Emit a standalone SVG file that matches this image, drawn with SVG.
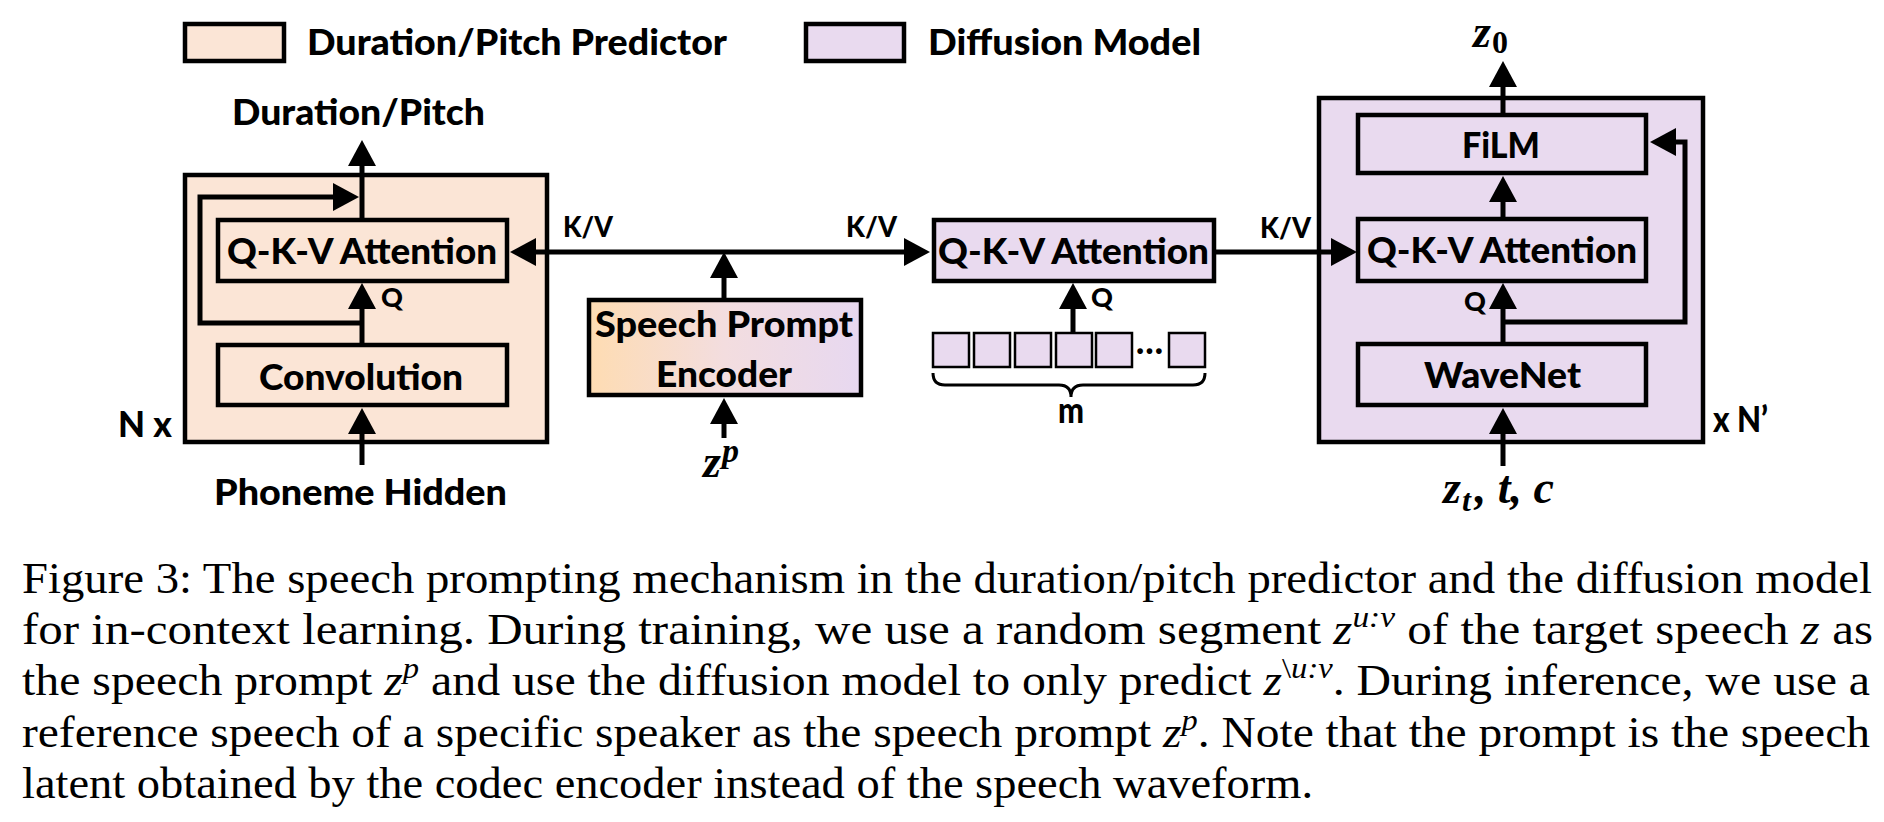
<svg xmlns="http://www.w3.org/2000/svg" width="1884" height="822" viewBox="0 0 1884 822">
<style>
.box{stroke:#000;stroke-width:4.5}
.pe{fill:#FBE5D6}
.df{fill:#E9DAEF}
.lbl{font-family:Lato,"Open Sans","Liberation Sans",sans-serif;font-weight:900;font-size:36px;fill:#000}
.sm{font-size:27px}
.kv{font-size:28px}
.math{font-family:"Liberation Serif","Times New Roman",serif;font-weight:700;font-style:italic;font-size:46px;fill:#000}
.conn{stroke:#000;stroke-width:5;fill:none}
.thin{stroke:#000;stroke-width:3;fill:none}
.cap{font-family:"Liberation Serif","Times New Roman",serif;font-size:44px;fill:#000}
.it{font-style:italic}
</style>
<defs>
<marker id="ah" viewBox="0 0 26 28" markerWidth="26" markerHeight="28" refX="1" refY="14" orient="auto-start-reverse" markerUnits="userSpaceOnUse">
<path d="M0,0 L26,14 L0,28 Z" fill="#000"/>
</marker>
<linearGradient id="enc" x1="0" y1="0" x2="1" y2="0">
<stop offset="0" stop-color="#FEDCB2"/>
<stop offset="0.5" stop-color="#F3DDDF"/>
<stop offset="1" stop-color="#E7D8F0"/>
</linearGradient>
</defs>
<rect width="1884" height="822" fill="#fff"/>

<g id="legend">
<rect class="box pe" x="185" y="24" width="99" height="37"/>
<text class="lbl" x="307" y="55" font-size="35" textLength="420" lengthAdjust="spacingAndGlyphs">Duration/Pitch Predictor</text>
<rect class="box df" x="806" y="24" width="98" height="37"/>
<text class="lbl" x="928" y="55" font-size="35" textLength="273" lengthAdjust="spacingAndGlyphs">Diffusion Model</text>
</g>

<g id="predictor">
<rect class="box pe" x="185" y="175" width="362" height="267"/>
<text class="lbl" x="118" y="437" textLength="54" lengthAdjust="spacingAndGlyphs">N x</text>
</g>
<g id="pred-attn">
<rect class="box pe" x="218" y="220" width="289" height="61"/>
<text class="lbl" x="227" y="264" textLength="270" lengthAdjust="spacingAndGlyphs">Q-K-V Attention</text>
</g>
<g id="pred-conv">
<rect class="box pe" x="218" y="345" width="289" height="60"/>
<text class="lbl" x="259" y="390" textLength="204" lengthAdjust="spacingAndGlyphs">Convolution</text>
</g>
<g id="pred-out">
<text class="lbl" x="232" y="125" textLength="253" lengthAdjust="spacingAndGlyphs">Duration/Pitch</text>
</g>
<g id="pred-in">
<text class="lbl" x="214" y="505" textLength="293" lengthAdjust="spacingAndGlyphs">Phoneme Hidden</text>
</g>

<g id="encoder">
<rect class="box" fill="url(#enc)" x="589" y="300" width="272" height="95"/>
<text class="lbl" x="595" y="337" textLength="258" lengthAdjust="spacingAndGlyphs">Speech Prompt</text>
<text class="lbl" x="656" y="387" textLength="136" lengthAdjust="spacingAndGlyphs">Encoder</text>
</g>
<g id="zp">
<text class="math" x="703" y="477">z<tspan font-size="34" dy="-15" dx="1">p</tspan></text>
</g>

<g id="mid-attn">
<rect class="box df" x="934" y="220" width="280" height="61"/>
<text class="lbl" x="938" y="264" textLength="271" lengthAdjust="spacingAndGlyphs">Q-K-V Attention</text>
</g>
<g id="queries">
<rect class="df" stroke="#000" stroke-width="2.5" x="933" y="333" width="36" height="34"/>
<rect class="df" stroke="#000" stroke-width="2.5" x="974" y="333" width="36" height="34"/>
<rect class="df" stroke="#000" stroke-width="2.5" x="1015" y="333" width="36" height="34"/>
<rect class="df" stroke="#000" stroke-width="2.5" x="1056" y="333" width="36" height="34"/>
<rect class="df" stroke="#000" stroke-width="2.5" x="1096" y="333" width="36" height="34"/>
<text class="lbl" x="1136" y="354" font-size="28" textLength="27" lengthAdjust="spacingAndGlyphs">…</text>
<rect class="df" stroke="#000" stroke-width="2.5" x="1169" y="333" width="36" height="34"/>
<path class="thin" d="M933,373 Q933,385 945,385 L1059,385 Q1071,385 1071,397 Q1071,385 1083,385 L1193,385 Q1205,385 1205,373"/>
<text class="lbl" x="1058" y="423" font-size="29" textLength="26" lengthAdjust="spacingAndGlyphs">m</text>
</g>

<g id="diffusion">
<rect class="box df" x="1319" y="98" width="384" height="344"/>
<text class="lbl" x="1713" y="432" textLength="55" lengthAdjust="spacingAndGlyphs">x N’</text>
</g>
<g id="film">
<rect class="box df" x="1358" y="115" width="288" height="58"/>
<text class="lbl" x="1462" y="158" textLength="78" lengthAdjust="spacingAndGlyphs">FiLM</text>
</g>
<g id="diff-attn">
<rect class="box df" x="1358" y="219" width="288" height="62"/>
<text class="lbl" x="1367" y="263" textLength="270" lengthAdjust="spacingAndGlyphs">Q-K-V Attention</text>
</g>
<g id="wavenet">
<rect class="box df" x="1358" y="344" width="288" height="61"/>
<text class="lbl" x="1424" y="388" textLength="157" lengthAdjust="spacingAndGlyphs">WaveNet</text>
</g>
<g id="z0">
<text class="math" x="1473" y="47">z<tspan font-size="32" font-style="normal" dy="6" dx="1">0</tspan></text>
</g>
<g id="ztc">
<text class="math" x="1443" y="503">z<tspan font-size="32" dy="8" dx="1">t</tspan><tspan dy="-8" dx="4">, t, c</tspan></text>
</g>

<g id="connectors">
<line class="conn" x1="362" y1="465" x2="362" y2="433" marker-end="url(#ah)"/>
<line class="conn" x1="362" y1="345" x2="362" y2="308" marker-end="url(#ah)"/>
<line class="conn" x1="362" y1="220" x2="362" y2="165" marker-end="url(#ah)"/>
<polyline class="conn" points="362,323 200,323 200,197 334,197" marker-end="url(#ah)"/>
<line class="conn" x1="535" y1="252" x2="905" y2="252" marker-start="url(#ah)" marker-end="url(#ah)"/>
<line class="conn" x1="724" y1="300" x2="724" y2="277" marker-end="url(#ah)"/>
<line class="conn" x1="724" y1="438" x2="724" y2="423" marker-end="url(#ah)"/>
<line class="conn" x1="1073" y1="333" x2="1073" y2="308" marker-end="url(#ah)"/>
<line class="conn" x1="1214" y1="252" x2="1332" y2="252" marker-end="url(#ah)"/>
<line class="conn" x1="1503" y1="466" x2="1503" y2="433" marker-end="url(#ah)"/>
<line class="conn" x1="1503" y1="344" x2="1503" y2="308" marker-end="url(#ah)"/>
<line class="conn" x1="1503" y1="219" x2="1503" y2="201" marker-end="url(#ah)"/>
<line class="conn" x1="1503" y1="115" x2="1503" y2="86" marker-end="url(#ah)"/>
<polyline class="conn" points="1503,322 1685,322 1685,142 1675,142" marker-end="url(#ah)"/>
<text class="lbl sm" x="381" y="307">Q</text>
<text class="lbl sm" x="1091" y="307">Q</text>
<text class="lbl sm" x="1464" y="311">Q</text>
<text class="lbl kv" x="563" y="237" textLength="50" lengthAdjust="spacingAndGlyphs">K/V</text>
<text class="lbl kv" x="846" y="237" textLength="51" lengthAdjust="spacingAndGlyphs">K/V</text>
<text class="lbl kv" x="1260" y="238" textLength="51" lengthAdjust="spacingAndGlyphs">K/V</text>
</g>

<g id="caption">
<text class="cap" x="22" y="593" textLength="1850" lengthAdjust="spacingAndGlyphs">Figure 3: The speech prompting mechanism in the duration/pitch predictor and the diffusion model</text>
<text class="cap" x="22" y="644" textLength="1851" lengthAdjust="spacingAndGlyphs">for in-context learning.  During training, we use a random segment <tspan class="it">z</tspan><tspan class="it" font-size="30" dy="-17">u:v</tspan><tspan dy="17"> of the target speech </tspan><tspan class="it">z</tspan> as</text>
<text class="cap" x="22" y="695" textLength="1848" lengthAdjust="spacingAndGlyphs">the speech prompt <tspan class="it">z</tspan><tspan class="it" font-size="30" dy="-17">p</tspan><tspan dy="17"> and use the diffusion model to only predict </tspan><tspan class="it">z</tspan><tspan font-size="30" dy="-17">\</tspan><tspan class="it" font-size="30">u:v</tspan><tspan dy="17">. During inference, we use a</tspan></text>
<text class="cap" x="22" y="747" textLength="1848" lengthAdjust="spacingAndGlyphs">reference speech of a specific speaker as the speech prompt <tspan class="it">z</tspan><tspan class="it" font-size="30" dy="-17">p</tspan><tspan dy="17">. Note that the prompt is the speech</tspan></text>
<text class="cap" x="22" y="798" textLength="1291" lengthAdjust="spacingAndGlyphs">latent obtained by the codec encoder instead of the speech waveform.</text>
</g>
</svg>
